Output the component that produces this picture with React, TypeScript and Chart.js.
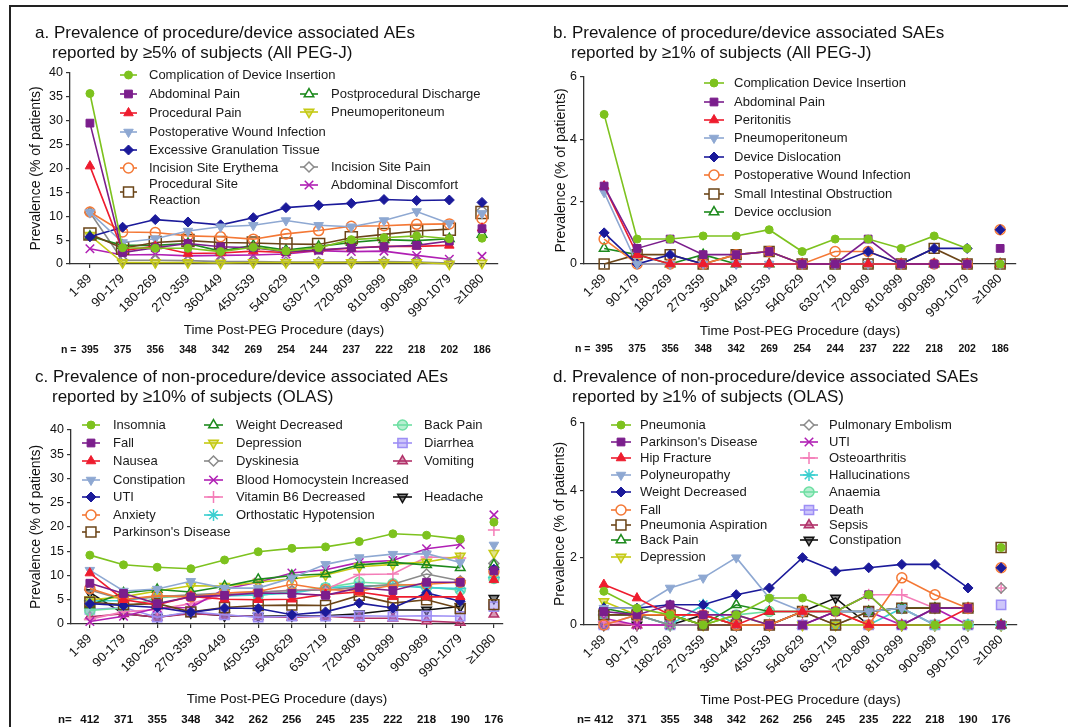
import React, { useEffect, useRef } from 'react';
import { Chart, registerables } from 'chart.js';
import { drawPoint } from 'chart.js/helpers';

Chart.register(...registerables);

const FAM = "'Liberation Sans', Arial, Helvetica, sans-serif";
const NARROW = "'Liberation Sans Narrow', 'Liberation Sans', Arial, sans-serif";
Chart.defaults.font.family = FAM;

// ---------- categories & sample sizes ----------
const timeBins = ['1-89', '90-179', '180-269', '270-359', '360-449', '450-539', '540-629', '630-719', '720-809', '810-899', '900-989', '990-1079', '≥1080'];
const nPegJ = [395, 375, 356, 348, 342, 269, 254, 244, 237, 222, 218, 202, 186];
const nOlas = [412, 371, 355, 348, 342, 262, 256, 245, 235, 222, 218, 190, 176];

// ---------- panel a: procedure/device AEs (All PEG-J) ----------
const aComplication = [35.7, 3.4, 3.3, 3.3, 2.6, 3.5, 2.7, 3.4, 5.1, 5.5, 5.9, 5.3, 5.4];
const aAbdominalPain = [29.5, 2.4, 3.4, 4.3, 3.6, 3.4, 2.6, 2.9, 3.4, 3.6, 3.9, 4.8, 7.4];
const aProceduralPain = [20.5, 2.8, 3.7, 2.2, 2.3, 2.7, 2.4, 2.9, 3.3, 3.7, 3.7, 3.9, 7.5];
const aWoundInfection = [10.8, 4.5, 5.3, 6.9, 7.8, 8.1, 9.1, 8.1, 7.8, 9.1, 11.0, 8.5, 10.6];
const aGranulation = [5.7, 7.7, 9.3, 8.8, 8.2, 9.7, 11.8, 12.3, 12.7, 13.5, 13.3, 13.4, 12.9];
const aErythema = [10.9, 6.7, 6.6, 5.9, 5.7, 5.2, 6.3, 7.0, 7.9, 8.0, 8.3, 8.4, 9.5];
const aSiteReaction = [6.3, 3.3, 4.5, 4.9, 4.5, 4.4, 4.2, 4.1, 5.5, 6.2, 6.9, 7.3, 10.8];
const aDischarge = [5.8, 3.9, 3.9, 4.3, 2.7, 3.9, 2.9, 3.7, 4.5, 5.1, 4.9, 5.3, 6.2];
const aPneumoperitoneum = [6.0, 0.3, 0.3, 0.3, 0.2, 0.3, 0.3, 0.3, 0.3, 0.3, 0.3, 0.0, 0.2];
const aSitePain = [10.8, 0.8, 0.8, 0.7, 0.5, 0.5, 0.4, 0.4, 0.4, 0.5, 0.4, 0.2, 11.2];
const aDiscomfort = [3.2, 1.9, 2.0, 1.7, 1.8, 1.9, 2.1, 2.8, 2.6, 2.7, 1.8, 1.0, 1.6];

// ---------- panel b: procedure/device SAEs (All PEG-J) ----------
const bComplication = [4.8, 0.8, 0.8, 0.9, 0.9, 1.1, 0.4, 0.8, 0.8, 0.5, 0.9, 0.5, 0];
const bAbdominalPain = [2.5, 0.5, 0.8, 0.3, 0.3, 0.4, 0, 0, 0.8, 0, 0, 0, 0.5];
const bPeritonitis = [2.5, 0.3, 0, 0, 0, 0, 0, 0, 0, 0, 0, 0, 0];
const bPneumoperitoneum = [2.3, 0, 0, 0, 0, 0, 0, 0, 0, 0, 0, 0, 0];
const bDislocation = [1.0, 0, 0.3, 0, 0, 0, 0, 0, 0.4, 0, 0.5, 0.5, 1.1];
const bWoundInfection = [0.8, 0, 0, 0, 0.3, 0.4, 0, 0.4, 0.4, 0, 0, 0, 1.1];
const bObstruction = [0, 0.3, 0.3, 0, 0.3, 0.4, 0, 0, 0, 0, 0.5, 0, 0];
const bOcclusion = [0.5, 0.3, 0, 0.3, 0, 0, 0, 0, 0, 0, 0, 0, 0];

// ---------- panel c: non-procedure AEs (OLAS) ----------
const cInsomnia = [14.2, 12.2, 11.7, 11.4, 13.2, 14.9, 15.6, 15.9, 17.0, 18.6, 18.3, 17.5, 21.0];
const cFall = [8.4, 6.3, 4.2, 5.6, 5.9, 6.4, 6.3, 5.9, 7.5, 6.9, 8.6, 8.6, 11.0];
const cNausea = [10.5, 5.0, 4.0, 5.7, 5.1, 5.0, 5.1, 6.1, 6.6, 5.6, 5.6, 5.6, 9.1];
const cConstipation = [11.1, 6.8, 7.2, 8.8, 7.4, 7.4, 9.5, 12.3, 13.7, 14.4, 14.5, 12.7, 16.3];
const cUti = [4.2, 3.8, 3.4, 2.4, 3.3, 3.2, 1.9, 2.5, 4.3, 3.3, 6.4, 4.7, 11.3];
const cAnxiety = [7.3, 5.1, 5.8, 5.6, 6.4, 6.7, 8.2, 7.1, 6.8, 8.0, 8.2, 8.6, 10.8];
const cParkinsons = [4.5, 4.0, 4.2, 2.5, 3.4, 3.8, 3.9, 3.8, 5.9, 4.3, 5.0, 3.2, 4.0];
const cWeightDecreased = [3.9, 6.4, 7.1, 6.6, 7.8, 9.2, 10.0, 10.3, 12.2, 12.7, 12.2, 11.6, 12.2];
const cDepression = [5.0, 5.6, 6.8, 7.9, 7.8, 8.6, 9.3, 10.1, 11.8, 12.3, 12.8, 14.0, 14.6];
const cDyskinesia = [7.0, 5.0, 5.6, 6.0, 6.4, 6.6, 6.9, 7.0, 7.6, 8.2, 10.3, 8.9, 12.5];
const cHomocystein = [0.5, 1.6, 3.3, 3.4, 7.2, 8.6, 10.5, 11.2, 12.7, 13.1, 15.5, 16.4, 22.5];
const cVitaminB6 = [1.0, 2.5, 3.0, 4.2, 6.0, 6.5, 7.0, 7.1, 10.2, 10.3, 13.8, 13.6, 19.4];
const cOrthostatic = [4.8, 4.8, 5.8, 5.8, 5.8, 6.0, 6.4, 7.4, 7.9, 7.9, 7.5, 7.3, 9.6];
const cBackPain = [2.8, 3.3, 5.4, 5.8, 6.3, 5.9, 6.7, 7.5, 8.6, 8.3, 7.6, 7.0, 9.4];
const cDiarrhea = [3.0, 3.4, 1.4, 2.5, 1.9, 1.4, 1.6, 1.6, 1.7, 1.6, 1.7, 1.6, 3.6];
const cVomiting = [1.5, 2.1, 1.4, 2.1, 1.8, 1.5, 1.4, 1.6, 1.2, 1.2, 0.6, 0.3, 2.0];
const cHeadache = [6.5, 2.1, 1.4, 2.3, 1.7, 1.6, 1.7, 1.7, 2.1, 2.9, 2.9, 3.6, 5.3];

// ---------- panel d: non-procedure SAEs (OLAS) ----------
const dPneumonia = [1.0, 0.5, 0.3, 0, 0.3, 0.8, 0.8, 0.4, 0.9, 0, 0, 0, 2.3];
const dParkinsons = [0.4, 0.3, 0.6, 0.3, 0.3, 0, 0, 0.4, 0.9, 0, 0.5, 0.5, 0];
const dHipFracture = [1.2, 0.8, 0.3, 0.3, 0, 0.4, 0.4, 0.4, 0, 0, 0, 0.5, 0];
const dPolyneuropathy = [0.5, 0.5, 1.1, 1.4, 2.0, 0.8, 0.4, 0.4, 0.4, 0.5, 0, 0, 0];
const dWeightDecreased = [0.5, 0.5, 0.6, 0.6, 0.9, 1.1, 2.0, 1.6, 1.7, 1.8, 1.8, 1.1, 1.7];
const dFall = [0, 0.3, 0.3, 0.3, 0, 0, 0.4, 0.4, 0, 1.4, 0.9, 0.5, 1.7];
const dAspiration = [0.3, 0.3, 0.3, 0, 0, 0, 0.4, 0, 0.4, 0.5, 0.5, 0.5, 2.3];
const dBackPain = [0.5, 0.3, 0.3, 0, 0.6, 0.4, 0.4, 0.4, 0.4, 0.5, 0.5, 0.5, 0];
const dDepression = [0.7, 0.3, 0.3, 0, 0.3, 0, 0, 0, 0, 0, 0, 0, 0];
const dEmbolism = [0.3, 0.3, 0, 0, 0, 0, 0.4, 0, 0.4, 0.5, 0.5, 0.5, 1.1];
const dUti = [0.2, 0, 0, 0, 0, 0, 0, 0.4, 0.4, 0, 0.5, 0, 0];
const dOsteoarthritis = [0.1, 0, 0, 0, 0, 0, 0, 0.4, 0.9, 0.9, 0.5, 0.5, 1.1];
const dHallucinations = [0.3, 0.3, 0, 0.6, 0, 0, 0, 0, 0, 0.5, 0, 0, 0];
const dAnaemia = [0.3, 0.3, 0, 0, 0.3, 0.4, 0.4, 0.4, 0.4, 0.5, 0, 0, 0];
const dDeath = [0, 0.3, 0, 0, 0, 0, 0, 0, 0, 0, 0, 0, 0.6];
const dSepsis = [0, 0, 0, 0, 0, 0, 0, 0, 0, 0, 0, 0, 0];
const dConstipation = [0, 0, 0, 0.3, 0, 0, 0.4, 0.8, 0, 0, 0, 0, 0];

// ---------- styles ----------
const COL = {
  lime: '#7DC21E', purple: '#7B1E8C', red: '#EE1C2E', ltblue: '#8EA8D2', navy: '#1B1A9A',
  orange: '#F47835', brown: '#6B4518', green: '#1D8A1D', yellow: '#C5CA14', grey: '#8A8A8A',
  magenta: '#B01FB4', pink: '#F47DB8', cyan: '#3CCFD0', mint: '#6EDFA3', lavender: '#9D8EF5',
  rose: '#B2326A', black: '#111111',
};
type Mk = { style: string; r: number; rot: number; fill: 'solid' | 'open' | 'line' | 'half' };
const MK: Record<string, Mk> = {
  dot: { style: 'circle', r: 4, rot: 0, fill: 'solid' },
  square: { style: 'rect', r: 5.5, rot: 0, fill: 'solid' },
  tri: { style: 'triangle', r: 5.5, rot: 0, fill: 'solid' },
  triDown: { style: 'triangle', r: 5.5, rot: 180, fill: 'solid' },
  diamond: { style: 'rectRot', r: 5, rot: 0, fill: 'solid' },
  ring: { style: 'circle', r: 5, rot: 0, fill: 'open' },
  box: { style: 'rect', r: 7, rot: 0, fill: 'open' },
  bigBox: { style: 'rect', r: 8.5, rot: 0, fill: 'open' },
  triOpen: { style: 'triangle', r: 5.5, rot: 0, fill: 'open' },
  triDownHalf: { style: 'triangle', r: 5.5, rot: 180, fill: 'half' },
  diamondOpen: { style: 'rectRot', r: 5, rot: 0, fill: 'open' },
  ex: { style: 'crossRot', r: 6, rot: 0, fill: 'line' },
  plus: { style: 'cross', r: 6, rot: 0, fill: 'line' },
  star: { style: 'star', r: 6, rot: 0, fill: 'line' },
  ringHalf: { style: 'circle', r: 5, rot: 0, fill: 'half' },
  boxHalf: { style: 'rect', r: 6.5, rot: 0, fill: 'half' },
  triHalf: { style: 'triangle', r: 5.5, rot: 0, fill: 'half' },
};

type Series = { label: string; values: number[]; color: string; mk: Mk; lines?: string[] };
type Leg = { x0: number; x1: number; tx: number; y: number };

function fillFor(s: Series, legend: boolean) {
  if (s.mk.fill === 'solid') return s.color;
  if (s.mk.fill === 'half') return s.color + '80';
  return legend ? '#ffffff' : 'rgba(255,255,255,0)';
}

const legA = [[120, 137, 149], [300, 318, 331]];
const legB = [[704, 724, 734]];
const legC = [[82, 100, 113], [204, 223, 236], [393, 412, 424]];
const legD = [[611, 631, 640], [800, 818, 829]];
const at = (cols: number[][], c: number, y: number): Leg => ({ x0: cols[c][0], x1: cols[c][1], tx: cols[c][2], y });

const panels = [
  {
    id: 'a',
    title: [
      { text: 'a. Prevalence of procedure/device associated AEs', x: 35, y: 37.5 },
      { text: 'reported by \u22655% of subjects (All PEG-J)', x: 52, y: 57.5 },
    ],
    box: { left: 70, right: 498, top: 73, bottom: 264, xMin: -0.61, xMax: 12.49, yMax: 40, step: 5, yTitleX: 36, xTitleY: 330 },
    n: nPegJ, nLabel: 'n =', nX: 61, nY: 350, nSize: 10.5,
    series: [
      { label: 'Complication of Device Insertion', values: aComplication, color: COL.lime, mk: MK.dot },
      { label: 'Abdominal Pain', values: aAbdominalPain, color: COL.purple, mk: MK.square },
      { label: 'Procedural Pain', values: aProceduralPain, color: COL.red, mk: MK.tri },
      { label: 'Postoperative Wound Infection', values: aWoundInfection, color: COL.ltblue, mk: MK.triDown },
      { label: 'Excessive Granulation Tissue', values: aGranulation, color: COL.navy, mk: MK.diamond },
      { label: 'Incision Site Erythema', values: aErythema, color: COL.orange, mk: MK.ring },
      { label: 'Procedural Site Reaction', values: aSiteReaction, color: COL.brown, mk: MK.bigBox, lines: ['Procedural Site', 'Reaction'] },
      { label: 'Postprocedural Discharge', values: aDischarge, color: COL.green, mk: MK.triOpen },
      { label: 'Pneumoperitoneum', values: aPneumoperitoneum, color: COL.yellow, mk: MK.triDownHalf },
      { label: 'Incision Site Pain', values: aSitePain, color: COL.grey, mk: MK.diamondOpen },
      { label: 'Abdominal Discomfort', values: aDiscomfort, color: COL.magenta, mk: MK.ex },
    ] as Series[],
    legend: [
      at(legA, 0, 75), at(legA, 0, 94), at(legA, 0, 113), at(legA, 0, 132), at(legA, 0, 150), at(legA, 0, 168),
      at(legA, 0, 192), at(legA, 1, 94), at(legA, 1, 112), at(legA, 1, 167), at(legA, 1, 185),
    ],
  },
  {
    id: 'b',
    title: [
      { text: 'b. Prevalence of procedure/device associated SAEs', x: 553, y: 37.5 },
      { text: 'reported by \u22651% of subjects (All PEG-J)', x: 571, y: 57.5 },
    ],
    box: { left: 584, right: 1016, top: 77, bottom: 264, xMin: -0.61, xMax: 12.48, yMax: 6, step: 2, yTitleX: 561, xTitleY: 331 },
    n: nPegJ, nLabel: 'n =', nX: 575, nY: 349, nSize: 10.5,
    series: [
      { label: 'Complication Device Insertion', values: bComplication, color: COL.lime, mk: MK.dot },
      { label: 'Abdominal Pain', values: bAbdominalPain, color: COL.purple, mk: MK.square },
      { label: 'Peritonitis', values: bPeritonitis, color: COL.red, mk: MK.tri },
      { label: 'Pneumoperitoneum', values: bPneumoperitoneum, color: COL.ltblue, mk: MK.triDown },
      { label: 'Device Dislocation', values: bDislocation, color: COL.navy, mk: MK.diamond },
      { label: 'Postoperative Wound Infection', values: bWoundInfection, color: COL.orange, mk: MK.ring },
      { label: 'Small Intestinal Obstruction', values: bObstruction, color: COL.brown, mk: MK.box },
      { label: 'Device occlusion', values: bOcclusion, color: COL.green, mk: MK.triOpen },
    ] as Series[],
    legend: [83, 102, 120, 138, 157, 175, 194, 212].map((y) => at(legB, 0, y)),
  },
  {
    id: 'c',
    title: [
      { text: 'c. Prevalence of non-procedure/device associated AEs', x: 35, y: 382 },
      { text: 'reported by \u226510% of subjects (OLAS)', x: 52, y: 402 },
    ],
    box: { left: 71, right: 503, top: 430, bottom: 624, xMin: -0.56, xMax: 12.27, yMax: 40, step: 5, yTitleX: 36, xTitleY: 699 },
    n: nOlas, nLabel: 'n=', nX: 58, nY: 720, nSize: 11.5,
    series: [
      { label: 'Insomnia', values: cInsomnia, color: COL.lime, mk: MK.dot },
      { label: 'Fall', values: cFall, color: COL.purple, mk: MK.square },
      { label: 'Nausea', values: cNausea, color: COL.red, mk: MK.tri },
      { label: 'Constipation', values: cConstipation, color: COL.ltblue, mk: MK.triDown },
      { label: 'UTI', values: cUti, color: COL.navy, mk: MK.diamond },
      { label: 'Anxiety', values: cAnxiety, color: COL.orange, mk: MK.ring },
      { label: "Parkinson's Disease", values: cParkinsons, color: COL.brown, mk: MK.box },
      { label: 'Weight Decreased', values: cWeightDecreased, color: COL.green, mk: MK.triOpen },
      { label: 'Depression', values: cDepression, color: COL.yellow, mk: MK.triDownHalf },
      { label: 'Dyskinesia', values: cDyskinesia, color: COL.grey, mk: MK.diamondOpen },
      { label: 'Blood Homocystein Increased', values: cHomocystein, color: COL.magenta, mk: MK.ex },
      { label: 'Vitamin B6 Decreased', values: cVitaminB6, color: COL.pink, mk: MK.plus },
      { label: 'Orthostatic Hypotension', values: cOrthostatic, color: COL.cyan, mk: MK.star },
      { label: 'Back Pain', values: cBackPain, color: COL.mint, mk: MK.ringHalf },
      { label: 'Diarrhea', values: cDiarrhea, color: COL.lavender, mk: MK.boxHalf },
      { label: 'Vomiting', values: cVomiting, color: COL.rose, mk: MK.triHalf },
      { label: 'Headache', values: cHeadache, color: COL.black, mk: MK.triDownHalf },
    ] as Series[],
    legend: [
      ...[425, 443, 461, 480, 497, 515, 532].map((y) => at(legC, 0, y)),
      ...[425, 443, 461, 480, 497, 515].map((y) => at(legC, 1, y)),
      at(legC, 2, 425), at(legC, 2, 443), at(legC, 2, 461), at(legC, 2, 497),
    ],
  },
  {
    id: 'd',
    title: [
      { text: 'd. Prevalence of non-procedure/device associated SAEs', x: 553, y: 382 },
      { text: 'reported by \u22651% of subjects (OLAS)', x: 572, y: 402 },
    ],
    box: { left: 584, right: 1017, top: 423, bottom: 625, xMin: -0.6, xMax: 12.48, yMax: 6, step: 2, yTitleX: 560, xTitleY: 700 },
    n: nOlas, nLabel: 'n=', nX: 577, nY: 720, nSize: 11.5,
    series: [
      { label: 'Pneumonia', values: dPneumonia, color: COL.lime, mk: MK.dot },
      { label: "Parkinson's Disease", values: dParkinsons, color: COL.purple, mk: MK.square },
      { label: 'Hip Fracture', values: dHipFracture, color: COL.red, mk: MK.tri },
      { label: 'Polyneuropathy', values: dPolyneuropathy, color: COL.ltblue, mk: MK.triDown },
      { label: 'Weight Decreased', values: dWeightDecreased, color: COL.navy, mk: MK.diamond },
      { label: 'Fall', values: dFall, color: COL.orange, mk: MK.ring },
      { label: 'Pneumonia Aspiration', values: dAspiration, color: COL.brown, mk: MK.box },
      { label: 'Back Pain', values: dBackPain, color: COL.green, mk: MK.triOpen },
      { label: 'Depression', values: dDepression, color: COL.yellow, mk: MK.triDownHalf },
      { label: 'Pulmonary Embolism', values: dEmbolism, color: COL.grey, mk: MK.diamondOpen },
      { label: 'UTI', values: dUti, color: COL.magenta, mk: MK.ex },
      { label: 'Osteoarthritis', values: dOsteoarthritis, color: COL.pink, mk: MK.plus },
      { label: 'Hallucinations', values: dHallucinations, color: COL.cyan, mk: MK.star },
      { label: 'Anaemia', values: dAnaemia, color: COL.mint, mk: MK.ringHalf },
      { label: 'Death', values: dDeath, color: COL.lavender, mk: MK.boxHalf },
      { label: 'Sepsis', values: dSepsis, color: COL.rose, mk: MK.triHalf },
      { label: 'Constipation', values: dConstipation, color: COL.black, mk: MK.triDownHalf },
    ] as Series[],
    legend: [
      ...[425, 442, 458, 475, 492, 510, 525, 540, 557].map((y) => at(legD, 0, y)),
      ...[425, 442, 458, 475, 492, 510, 525, 540].map((y) => at(legD, 1, y)),
    ],
  },
];

const decoPlugin = {
  id: 'deco',
  afterDraw(chart: any, _args: any, opts: any) {
    const ctx = chart.ctx as CanvasRenderingContext2D;
    const p = opts.panel;
    ctx.save();
    // panel title
    ctx.fillStyle = '#111';
    ctx.font = `17px ${FAM}`;
    ctx.textAlign = 'left';
    ctx.textBaseline = 'alphabetic';
    p.title.forEach((t: any) => ctx.fillText(t.text, t.x, t.y));
    // n row
    const xs = chart.scales.x;
    ctx.font = `bold ${p.nSize}px ${NARROW}`;
    ctx.textBaseline = 'middle';
    ctx.textAlign = 'left';
    ctx.fillText(p.nLabel, p.nX, p.nY);
    ctx.textAlign = 'center';
    p.n.forEach((v: number, i: number) => ctx.fillText(String(v), xs.getPixelForValue(i), p.nY));
    // legend
    ctx.font = `13px ${FAM}`;
    p.series.forEach((s: Series, i: number) => {
      const L: Leg = p.legend[i];
      if (!L) return;
      ctx.strokeStyle = s.color;
      ctx.lineWidth = 1.6;
      ctx.beginPath();
      ctx.moveTo(L.x0, L.y);
      ctx.lineTo(L.x1, L.y);
      ctx.stroke();
      ctx.fillStyle = fillFor(s, true);
      ctx.lineWidth = s.mk.fill === 'solid' ? 1 : 1.5;
      const r = Math.min(s.mk.r, 7);
      drawPoint(ctx, { pointStyle: s.mk.style as any, rotation: s.mk.rot, radius: r, borderWidth: ctx.lineWidth }, (L.x0 + L.x1) / 2, L.y);
      ctx.fillStyle = '#1a1a1a';
      ctx.textAlign = 'left';
      ctx.textBaseline = 'middle';
      if (s.lines) {
        const gap = 16;
        s.lines.forEach((ln, k) => ctx.fillText(ln, L.tx, L.y - gap / 2 + k * gap));
      } else {
        ctx.fillText(s.label, L.tx, L.y);
      }
    });
    ctx.restore();
  },
};

function Panel({ spec }: { spec: any }) {
  const ref = useRef<HTMLCanvasElement>(null);
  useEffect(() => {
    const b = spec.box;
    const yScaleLeft = b.yTitleX - 8.4;
    const yW = b.left - yScaleLeft;
    const xH = b.xTitleY + 8.1 - b.bottom;
    const last = timeBins.length - 1;
    const axisGrid = { display: true, drawOnChartArea: false, drawTicks: true, tickLength: 4, color: '#333', lineWidth: 1.2 };
    const axisBorder = { display: true, color: '#333', width: 1.3 };
    const chart = new Chart(ref.current as HTMLCanvasElement, {
      type: 'line',
      data: {
        datasets: spec.series.map((s: Series) => ({
          label: s.label,
          data: s.values.map((v, i) => ({ x: i, y: v })),
          borderColor: s.color,
          borderWidth: 1.6,
          pointStyle: s.mk.style,
          pointRadius: s.mk.r,
          pointHoverRadius: s.mk.r,
          pointRotation: s.mk.rot,
          pointBackgroundColor: fillFor(s, false),
          pointBorderColor: s.color,
          pointBorderWidth: s.mk.fill === 'solid' ? 1 : 1.5,
          tension: 0,
          clip: false,
          segment: { borderColor: (c: any) => (c.p1DataIndex === last ? 'rgba(0,0,0,0)' : s.color) },
        })),
      },
      options: {
        responsive: false,
        animation: false,
        events: [],
        layout: { padding: { left: yScaleLeft, top: b.top, right: 1068 - b.right, bottom: 727 - (b.bottom + xH) } },
        plugins: { legend: { display: false }, tooltip: { enabled: false }, deco: { panel: spec } } as any,
        scales: {
          x: {
            type: 'linear',
            min: b.xMin,
            max: b.xMax,
            afterBuildTicks: (sc: any) => { sc.ticks = timeBins.map((_, i) => ({ value: i })); },
            afterFit: (sc: any) => { sc.height = xH; },
            ticks: { autoSkip: false, minRotation: 45, maxRotation: 45, padding: 3, color: '#111', font: { size: 13 }, callback: (v: any) => timeBins[v] ?? '' },
            grid: axisGrid,
            border: axisBorder,
            title: { display: true, text: 'Time Post-PEG Procedure (days)', color: '#111', font: { size: 13.5 }, padding: 0 },
          },
          y: {
            min: 0,
            max: b.yMax,
            afterFit: (sc: any) => { sc.width = yW; },
            ticks: { stepSize: b.step, padding: 3, color: '#111', font: { size: 12.5 } },
            grid: axisGrid,
            border: axisBorder,
            title: { display: true, text: 'Prevalence (% of patients)', color: '#111', font: { size: 14 }, padding: 0 },
          },
        },
      } as any,
      plugins: [decoPlugin],
    });
    return () => chart.destroy();
  }, [spec]);
  return (
    <canvas
      ref={ref}
      width={1068}
      height={727}
      style={{ position: 'absolute', left: 0, top: 0, width: 1068, height: 727 }}
    />
  );
}

export default function App() {
  return (
    <div style={{ position: 'fixed', left: 0, top: 0, width: 1068, height: 727, background: '#fff', overflow: 'hidden' }}>
      <div style={{ position: 'absolute', left: 9, top: 5, right: -4, bottom: -4, borderTop: '2px solid #222', borderLeft: '2px solid #222' }} />
      {panels.map((p) => (
        <Panel key={p.id} spec={p} />
      ))}
    </div>
  );
}
